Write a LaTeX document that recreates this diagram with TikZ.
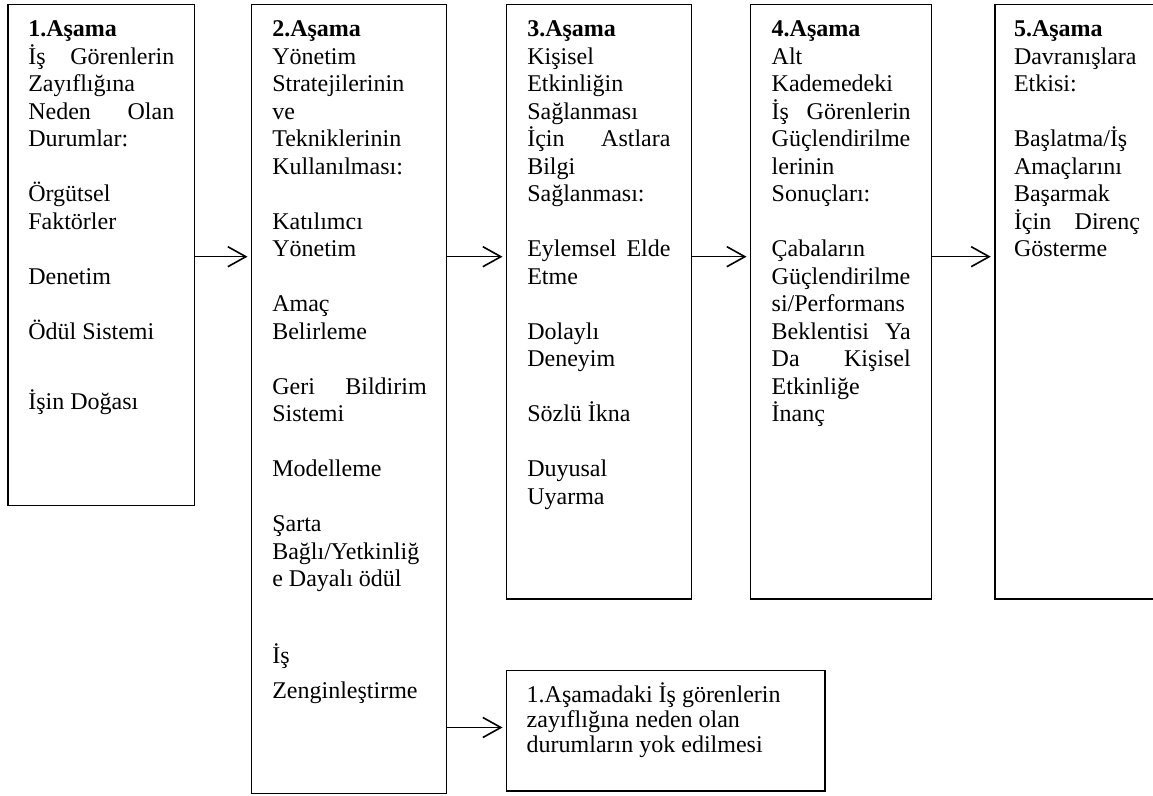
\documentclass[tikz,border=0pt]{standalone}
\usepackage{fontspec}
\setmainfont{Liberation Serif}
\usetikzlibrary{arrows.meta,fit}
\newcommand\putline[4]{\node[txt] (#1) at (#2,{36.7+27.5*(#3)}) {#4};}
\newcommand\putat[4]{\node[txt] (#1) at (#2,#3) {#4};}
\newcommand\jus[3]{\hbox to #1{#2\hfill #3}}
\begin{document}
\begin{tikzpicture}[x=0.5pt,y=-0.5pt,
  box/.style={draw=black, line width=0.6pt, inner sep=0pt},
  txt/.style={anchor=base west, inner sep=0pt, outer sep=0pt, font=\fontsize{12}{13.8}\selectfont},
  arr/.style={line width=0.8pt, -{Straight Barb[length=9pt,width=10pt,line width=0.8pt]}, shorten >=1.8pt}]
\useasboundingbox (0,0) rectangle (1153,796);
\clip (0,0) rectangle (1153,796);
\fill[white] (0,0) rectangle (1153,796);
% boxes
\node[box, fit={(8,4.5) (194.3,505.7)}] (b1) {};
\node[box, fit={(251.7,4.5) (446.7,793.5)}] (b2) {};
\node[box, fit={(506.7,4.5) (691.3,599)}] (b3) {};
\node[box, fit={(750.7,4.5) (931.3,599)}] (b4) {};
\node[box, fit={(995,4.5) (1162,599)}] (b5) {};
\node[box, fit={(506.7,670.5) (825,791)}] (b6) {};
% arrows
\coordinate (ya) at (0,256.7);
\coordinate (yb) at (0,727.5);
\draw[arr] (b1.east |- ya) -- (b2.west |- ya);
\draw[arr] (b2.east |- ya) -- (b3.west |- ya);
\draw[arr] (b3.east |- ya) -- (b4.west |- ya);
\draw[arr] (b4.east |- ya) -- (b5.west |- ya);
\draw[arr] (b2.east |- yb) -- (b6.west |- yb);
% box 1
\putline{t1a}{28.3}{0}{\textbf{1.Aşama}}
\putline{t1b}{28.3}{1}{\jus{73pt}{İş}{Görenlerin}}
\putline{t1c}{28.3}{2}{Zayıflığına}
\putline{t1d}{28.3}{3}{\jus{73pt}{Neden}{Olan}}
\putline{t1e}{28.3}{4}{Durumlar:}
\putline{t1f}{28.3}{6}{Örgütsel}
\putline{t1g}{28.3}{7}{Faktörler}
\putline{t1h}{28.3}{9}{Denetim}
\putline{t1i}{28.3}{11}{Ödül Sistemi}
\putat{t1j}{28.3}{409.3}{İşin Doğası}
% box 2
\putline{t2a}{272.3}{0}{\textbf{2.Aşama}}
\putline{t2b}{272.3}{1}{Yönetim}
\putline{t2c}{272.3}{2}{Stratejilerinin}
\putline{t2d}{272.3}{3}{ve}
\putline{t2e}{272.3}{4}{Tekniklerinin}
\putline{t2f}{272.3}{5}{Kullanılması:}
\putline{t2g}{272.3}{7}{Katılımcı}
\putline{t2h}{272.3}{8}{Yönetim}
\putline{t2i}{272.3}{10}{Amaç}
\putline{t2j}{272.3}{11}{Belirleme}
\putline{t2k}{272.3}{13}{\jus{77.2pt}{Geri}{Bildirim}}
\putline{t2l}{272.3}{14}{Sistemi}
\putline{t2m}{272.3}{16}{Modelleme}
\putline{t2n}{272.3}{18}{Şarta}
\putline{t2o}{272.3}{19}{Bağlı/Yetkinliğ}
\putline{t2p}{272.3}{20}{e Dayalı ödül}
\putat{t2q}{272.3}{664}{İş}
\putat{t2r}{272.3}{699}{Zenginleştirme}
% box 3
\putline{t3a}{527.3}{0}{\textbf{3.Aşama}}
\putline{t3b}{527.3}{1}{Kişisel}
\putline{t3c}{527.3}{2}{Etkinliğin}
\putline{t3d}{527.3}{3}{Sağlanması}
\putline{t3e}{527.3}{4}{\jus{71.6pt}{İçin}{Astlara}}
\putline{t3f}{527.3}{5}{Bilgi}
\putline{t3g}{527.3}{6}{Sağlanması:}
\putline{t3h}{527.3}{8}{\jus{71.6pt}{Eylemsel}{Elde}}
\putline{t3i}{527.3}{9}{Etme}
\putline{t3j}{527.3}{11}{Dolaylı}
\putline{t3k}{527.3}{12}{Deneyim}
\putline{t3l}{527.3}{14}{Sözlü İkna}
\putline{t3m}{527.3}{16}{Duyusal}
\putline{t3n}{527.3}{17}{Uyarma}
% box 4
\putline{t4a}{771.7}{0}{\textbf{4.Aşama}}
\putline{t4b}{771.7}{1}{Alt}
\putline{t4c}{771.7}{2}{Kademedeki}
\putline{t4d}{771.7}{3}{\jus{69.5pt}{İş}{Görenlerin}}
\putline{t4e}{771.7}{4}{Güçlendirilme}
\putline{t4f}{771.7}{5}{lerinin}
\putline{t4g}{771.7}{6}{Sonuçları:}
\putline{t4h}{771.7}{8}{Çabaların}
\putline{t4i}{771.7}{9}{Güçlendirilme}
\putline{t4j}{771.7}{10}{si/Performans}
\putline{t4k}{771.7}{11}{\jus{69.5pt}{Beklentisi}{Ya}}
\putline{t4l}{771.7}{12}{\jus{69.5pt}{Da}{Kişisel}}
\putline{t4m}{771.7}{13}{Etkinliğe}
\putline{t4n}{771.7}{14}{İnanç}
% box 5
\putline{t5a}{1014}{0}{\textbf{5.Aşama}}
\putline{t5b}{1014}{1}{Davranışlara}
\putline{t5c}{1014}{2}{Etkisi:}
\putline{t5d}{1014}{4}{Başlatma/İş}
\putline{t5e}{1014}{5}{Amaçlarını}
\putline{t5f}{1014}{6}{Başarmak}
\putline{t5g}{1014}{7}{\jus{63pt}{İçin}{Direnç}}
\putline{t5h}{1014}{8}{Gösterme}
% box 6
\putat{t6a}{526.7}{703}{1.Aşamadaki İş görenlerin}
\putat{t6b}{526.7}{728}{zayıflığına neden olan}
\putat{t6c}{526.7}{752.7}{durumların yok edilmesi}
\end{tikzpicture}
\end{document}
